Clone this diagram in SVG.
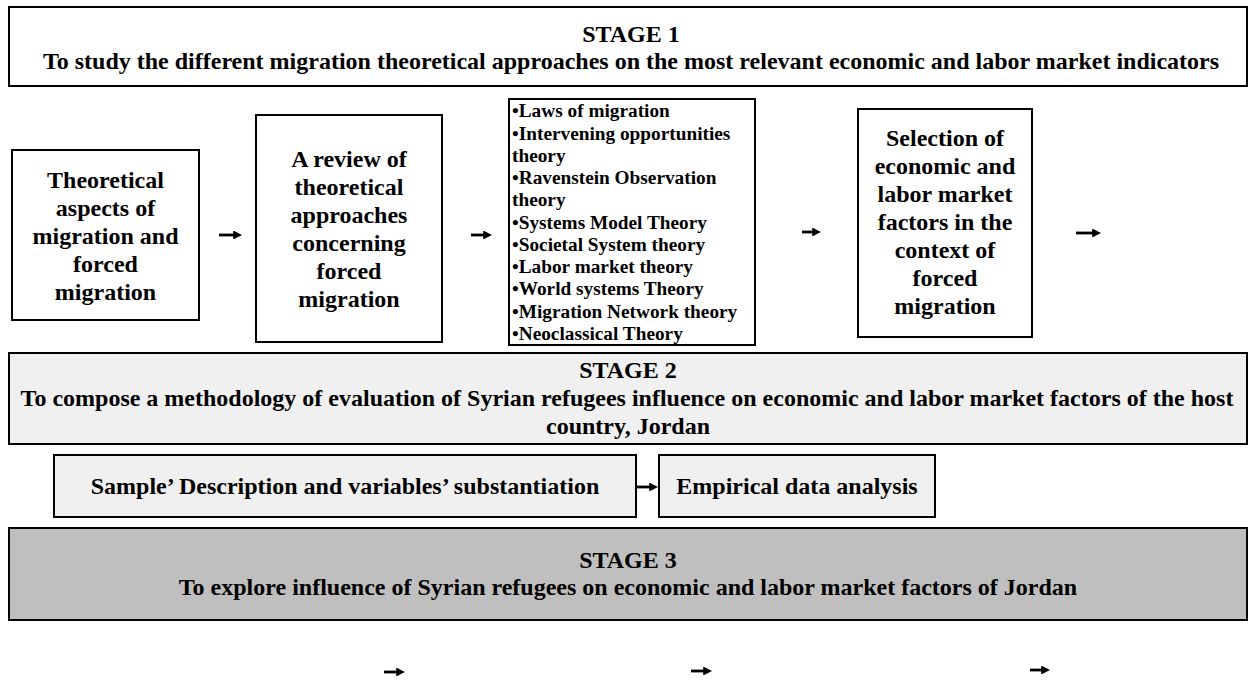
<svg xmlns="http://www.w3.org/2000/svg" width="1250" height="685" viewBox="0 0 1250 685">
<style>
text{font-family:"Liberation Serif","Times New Roman",serif;font-weight:bold;fill:#000}
.stage{font-size:24px;text-anchor:middle}
.box{font-size:24px;text-anchor:middle}
.list{font-size:19.3px}
.sub{font-size:24px;text-anchor:middle}
rect{stroke:#000;stroke-width:2}
.w{fill:#fff}
.g1{fill:#f0f0f0}
.g2{fill:#bfbfbf}
.arr{stroke:#000;stroke-width:2.8;fill:none;marker-end:url(#ah)}
</style>
<defs>
<marker id="ah" viewBox="0 0 10 10" refX="2" refY="5" markerWidth="3.2" markerHeight="3.2" orient="auto" markerUnits="strokeWidth">
<path d="M0,0 L10,5 L0,10 z" fill="#000"/>
</marker>
</defs>
<g id="stage1">
<rect class="w" x="9" y="7" width="1238" height="79"/>
<text class="stage" x="631" y="42">STAGE 1</text>
<text class="stage" x="631" y="69">To study the different migration theoretical approaches on the most relevant economic and labor market indicators</text>
</g>
<g id="n1">
<rect class="w" x="12" y="150" width="187" height="170"/>
<text class="box"><tspan x="105.5" y="188">Theoretical</tspan><tspan x="105.5" y="216">aspects of</tspan><tspan x="105.5" y="244">migration and</tspan><tspan x="105.5" y="272">forced</tspan><tspan x="105.5" y="300">migration</tspan></text>
</g>
<g id="n2">
<rect class="w" x="256" y="115" width="186" height="227"/>
<text class="box"><tspan x="349" y="167">A review of</tspan><tspan x="349" y="195">theoretical</tspan><tspan x="349" y="223">approaches</tspan><tspan x="349" y="251">concerning</tspan><tspan x="349" y="279">forced</tspan><tspan x="349" y="307">migration</tspan></text>
</g>
<g id="n3">
<rect class="w" x="509" y="99" width="246" height="246"/>
<text class="list"><tspan x="512" y="117">•Laws of migration</tspan><tspan x="512" y="140">•Intervening opportunities</tspan><tspan x="512" y="162">theory</tspan><tspan x="512" y="184">•Ravenstein Observation</tspan><tspan x="512" y="206">theory</tspan><tspan x="512" y="229">•Systems Model Theory</tspan><tspan x="512" y="251">•Societal System theory</tspan><tspan x="512" y="273">•Labor market theory</tspan><tspan x="512" y="295">•World systems Theory</tspan><tspan x="512" y="318">•Migration Network theory</tspan><tspan x="512" y="340">•Neoclassical Theory</tspan></text>
</g>
<g id="n4">
<rect class="w" x="858" y="109" width="174" height="228"/>
<text class="box"><tspan x="945" y="146">Selection of</tspan><tspan x="945" y="174">economic and</tspan><tspan x="945" y="202">labor market</tspan><tspan x="945" y="230">factors in the</tspan><tspan x="945" y="258">context of</tspan><tspan x="945" y="286">forced</tspan><tspan x="945" y="314">migration</tspan></text>
</g>
<g id="stage2">
<rect class="g1" x="9" y="353" width="1238" height="91"/>
<text class="stage" x="628" y="378">STAGE 2</text>
<text class="stage" x="627" y="406">To compose a methodology of evaluation of Syrian refugees influence on economic and labor market factors of the host</text>
<text class="stage" x="628" y="434">country, Jordan</text>
</g>
<g id="n5">
<rect class="g1" x="54" y="455" width="582" height="62"/>
<text class="sub" x="345" y="494">Sample’ Description and variables’ substantiation</text>
</g>
<g id="n6">
<rect class="g1" x="659" y="455" width="276" height="62"/>
<text class="sub" x="797" y="494">Empirical data analysis</text>
</g>
<g id="stage3">
<rect class="g2" x="9" y="528" width="1238" height="92"/>
<text class="stage" x="628" y="568">STAGE 3</text>
<text class="stage" x="628" y="595">To explore influence of Syrian refugees on economic and labor market factors of Jordan</text>
</g>
<g id="connectors">
<line class="arr" x1="219" y1="235" x2="235" y2="235"/>
<line class="arr" x1="471" y1="235" x2="485" y2="235"/>
<line class="arr" x1="802" y1="232" x2="814" y2="232"/>
<line class="arr" x1="1076" y1="233" x2="1094" y2="233"/>
<line class="arr" x1="637" y1="487" x2="651" y2="487"/>
<line class="arr" x1="384" y1="672" x2="398" y2="672"/>
<line class="arr" x1="691" y1="671" x2="705" y2="671"/>
<line class="arr" x1="1030" y1="670" x2="1043" y2="670"/>
</g>
</svg>
